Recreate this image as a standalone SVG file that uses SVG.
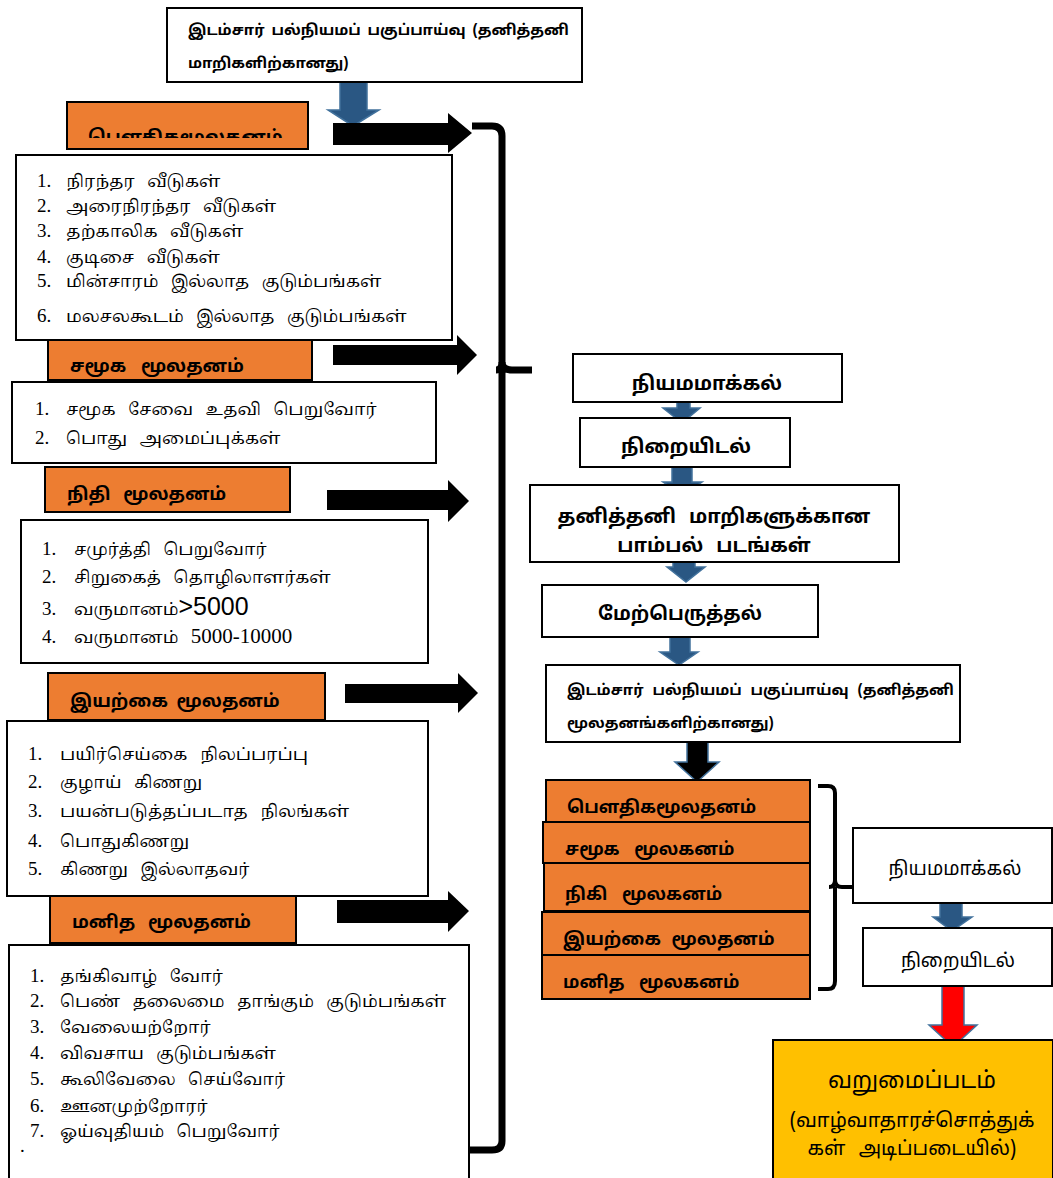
<svg xmlns="http://www.w3.org/2000/svg" width="1053" height="1178" viewBox="0 0 1053 1178">
<style>
.wb{fill:#fff;stroke:#000;stroke-width:2}
.ob{fill:#ED7D31;stroke:#000;stroke-width:2}
.hd{font-family:"Noto Sans Tamil","Latha","Lohit Tamil","Noto Sans",sans-serif;font-weight:bold;fill:#000}
.li{font-family:"Noto Serif Tamil","Latha","Noto Sans Tamil","Liberation Serif",serif;font-size:17px;word-spacing:8px;fill:#000}
.nm{font-family:"Liberation Serif",serif;font-size:19px;fill:#000}
.rg{font-family:"Noto Sans Tamil","Latha","Lohit Tamil",sans-serif;fill:#000}
.blk{fill:#000}
.blu{fill:#2A5783;stroke:#41719C;stroke-width:1.5}
.br{fill:none;stroke:#000;stroke-linejoin:round}
</style>
<defs>
<clipPath id="clip1"><rect x="60" y="95" width="260" height="43"/></clipPath>
</defs>
<rect width="1053" height="1178" fill="#fff"/>

<g id="connectors">
<polygon class="blu" points="340,82 367,82 367,110 379,110 353,126 328,110 340,110"/>
<polygon class="blk" points="333,123 448,123 448,113 472,133 448,153 448,145 333,145"/>
<polygon class="blk" points="333,345 457,345 457,335 477,355 457,375 457,365 333,365"/>
<polygon class="blk" points="327,490 448,490 448,480 469,501 448,522 448,510 327,510"/>
<polygon class="blk" points="345,684 458,684 458,673 478,693 458,713 458,703 345,703"/>
<polygon class="blk" points="337,900 448,900 448,891 469,911 448,932 448,923 337,923"/>
<path class="br" stroke-width="7" d="M472,126 L492,126 Q502,126 502,136 L502,362 Q502,370 512,370 L532,370 M502,370 L502,1141 Q502,1150 492,1150 L470,1150"/>
<path class="br" stroke-width="7" d="M502,362 Q502,370 496,370"/>
<polygon class="blu" points="677,398 690,398 690,408 700,408 682,423 663,408 677,408"/>
<polygon class="blu" points="672,466 692,466 692,482 702,482 683,495 663,482 672,482"/>
<polygon class="blu" points="673,561 695,561 695,567 705,567 686,582 667,567 673,567"/>
<polygon class="blu" points="670,637 690,637 690,652 698,652 679,665 660,652 670,652"/>
<polygon fill="#000" stroke="#41719C" stroke-width="1.5" points="687,742 708,742 708,762 719,762 697,782 675,762 687,762"/>
<path class="br" stroke-width="4" d="M818,786 L828,786 Q835,786 835,793 L835,880 Q835,887 842,887 L853,887 M835,887 L835,981 Q835,989 828,989 L818,989"/>
<path class="br" stroke-width="4" d="M835,880 Q835,887 829,887"/>
<polygon class="blu" points="940,903 962,903 962,917 972,917 952,931 933,917 940,917"/>
<polygon fill="#FF0000" stroke="#41719C" stroke-width="1.5" points="942,978 964,978 964,1025 977,1025 953,1047 929,1025 942,1025"/>
</g>

<g id="top-box">
<rect class="wb" x="167" y="8" width="415" height="74"/>
<text class="hd" font-size="15" x="188" y="35" word-spacing="3">இடம்சார் பல்நியமப் பகுப்பாய்வு (தனித்தனி</text>
<text class="hd" font-size="15" x="188" y="68">மாறிகளிற்கானது)</text>
</g>

<g id="physical-head">
<rect class="ob" x="67" y="102" width="241" height="47"/>
<text class="hd" font-size="18" x="88" y="143" clip-path="url(#clip1)">பௌதிகமூலதனம்</text>
</g>
<g id="physical-list">
<rect class="wb" x="16" y="155" width="436" height="185"/>
<text class="nm" x="37" y="187">1.</text><text class="li" x="66" y="187">நிரந்தர வீடுகள்</text>
<text class="nm" x="37" y="212">2.</text><text class="li" x="66" y="212">அரைநிரந்தர வீடுகள்</text>
<text class="nm" x="37" y="237">3.</text><text class="li" x="66" y="237">தற்காலிக வீடுகள்</text>
<text class="nm" x="37" y="263">4.</text><text class="li" x="66" y="263">குடிசை வீடுகள்</text>
<text class="nm" x="37" y="287">5.</text><text class="li" x="66" y="287">மின்சாரம் இல்லாத குடும்பங்கள்</text>
<text class="nm" x="37" y="322">6.</text><text class="li" x="66" y="322">மலசலகூடம் இல்லாத குடும்பங்கள்</text>
</g>

<g id="social-head">
<rect class="ob" x="48" y="340" width="264" height="40"/>
<text class="hd" font-size="18" x="70" y="372" word-spacing="10">சமூக மூலதனம்</text>
</g>
<g id="social-list">
<rect class="wb" x="12" y="382" width="424" height="81"/>
<text class="nm" x="35" y="415">1.</text><text class="li" x="66" y="415" font-size="18" word-spacing="17">சமூக சேவை உதவி பெறுவோர்</text>
<text class="nm" x="35" y="444">2.</text><text class="li" x="66" y="444" font-size="18" word-spacing="17">பொது அமைப்புக்கள்</text>
</g>

<g id="finance-head">
<rect class="ob" x="45" y="467" width="245" height="45"/>
<text class="hd" font-size="18" x="67" y="500" word-spacing="8">நிதி மூலதனம்</text>
</g>
<g id="finance-list">
<rect class="wb" x="21" y="520" width="407" height="143"/>
<text class="nm" x="42" y="555">1.</text><text class="li" x="74" y="555" font-size="19" word-spacing="14">சமுர்த்தி பெறுவோர்</text>
<text class="nm" x="42" y="583">2.</text><text class="li" x="74" y="583" font-size="19" word-spacing="14">சிறுகைத் தொழிலாளர்கள்</text>
<text class="nm" x="42" y="615">3.</text><text class="li" x="74" y="615" font-size="19">வருமானம்<tspan font-family="Liberation Sans,sans-serif" font-size="25">&gt;5000</tspan></text>
<text class="nm" x="42" y="643">4.</text><text class="li" x="74" y="643" font-size="19" word-spacing="14">வருமானம் <tspan font-family="Liberation Serif,serif" font-size="21">5000-10000</tspan></text>
</g>

<g id="natural-head">
<rect class="ob" x="48" y="673" width="277" height="47"/>
<text class="hd" font-size="18" x="70" y="707" word-spacing="4">இயற்கை மூலதனம்</text>
</g>
<g id="natural-list">
<rect class="wb" x="7" y="721" width="421" height="175"/>
<text class="nm" x="28" y="760" font-size="21">1.</text><text class="li" x="60" y="760" font-size="20" word-spacing="12">பயிர்செய்கை நிலப்பரப்பு</text>
<text class="nm" x="28" y="788" font-size="21">2.</text><text class="li" x="60" y="788" font-size="20" word-spacing="12">குழாய் கிணறு</text>
<text class="nm" x="28" y="817" font-size="21">3.</text><text class="li" x="60" y="817" font-size="20" word-spacing="12">பயன்படுத்தப்படாத நிலங்கள்</text>
<text class="nm" x="28" y="847" font-size="21">4.</text><text class="li" x="60" y="847" font-size="20" word-spacing="12">பொதுகிணறு</text>
<text class="nm" x="28" y="875" font-size="21">5.</text><text class="li" x="60" y="875" font-size="20" word-spacing="12">கிணறு இல்லாதவர்</text>
</g>

<g id="human-head">
<rect class="ob" x="50" y="896" width="246" height="47"/>
<text class="hd" font-size="18" x="72" y="928" word-spacing="8">மனித மூலதனம்</text>
</g>
<g id="human-list">
<rect class="wb" x="9" y="945" width="460" height="240"/>
<text class="nm" x="30" y="982" font-size="18">1.</text><text class="li" x="60" y="982" font-size="16.5" word-spacing="7">தங்கிவாழ் வோர்</text>
<text class="nm" x="30" y="1007" font-size="18">2.</text><text class="li" x="60" y="1007" font-size="16.5" word-spacing="7">பெண் தலைமை தாங்கும் குடும்பங்கள்</text>
<text class="nm" x="30" y="1033" font-size="18">3.</text><text class="li" x="60" y="1033" font-size="16.5" word-spacing="7">வேலையற்றோர்</text>
<text class="nm" x="30" y="1059" font-size="18">4.</text><text class="li" x="60" y="1059" font-size="16.5" word-spacing="7">விவசாய குடும்பங்கள்</text>
<text class="nm" x="30" y="1085" font-size="18">5.</text><text class="li" x="60" y="1085" font-size="16.5" word-spacing="7">கூலிவேலை செய்வோர்</text>
<text class="nm" x="30" y="1112" font-size="18">6.</text><text class="li" x="60" y="1112" font-size="16.5" word-spacing="7">ஊனமுற்றோரர்</text>
<text class="nm" x="30" y="1137" font-size="18">7.</text><text class="li" x="60" y="1137" font-size="16.5" word-spacing="7">ஓய்வுதியம் பெறுவோர்</text>
<text class="nm" x="20" y="1152">.</text>
</g>

<g id="normalise">
<rect class="wb" x="573" y="354" width="269" height="48"/>
<text class="hd" font-size="19.5" x="707" y="390" text-anchor="middle">நியமமாக்கல்</text>
</g>
<g id="weighting">
<rect class="wb" x="580" y="418" width="210" height="49"/>
<text class="hd" font-size="19.5" x="686" y="453" text-anchor="middle">நிறையிடல்</text>
</g>
<g id="spider">
<rect class="wb" x="530" y="485" width="369" height="77"/>
<text class="hd" font-size="19.5" x="714" y="523" text-anchor="middle" word-spacing="8">தனித்தனி மாறிகளுக்கான</text>
<text class="hd" font-size="19.5" x="714" y="552" text-anchor="middle" word-spacing="8">பாம்பல் படங்கள்</text>
</g>
<g id="overlay">
<rect class="wb" x="542" y="585" width="276" height="52"/>
<text class="hd" font-size="19" x="680" y="620" text-anchor="middle">மேற்பெருத்தல்</text>
</g>
<g id="capital-analysis">
<rect class="wb" x="546" y="665" width="414" height="77"/>
<text class="hd" font-size="15" x="567" y="695" word-spacing="5">இடம்சார் பல்நியமப் பகுப்பாய்வு (தனித்தனி</text>
<text class="hd" font-size="15" x="567" y="728">மூலதனங்களிற்கானது)</text>
</g>

<g id="stack-physical">
<rect class="ob" x="546" y="780" width="264" height="42"/>
<text class="hd" font-size="17.5" x="567" y="813">பௌதிகமூலதனம்</text>
</g>
<g id="stack-social">
<rect class="ob" x="543" y="822" width="267" height="41"/>
<text class="hd" font-size="17.5" x="565" y="855" word-spacing="10">சமூக மூலகனம்</text>
</g>
<g id="stack-finance">
<rect class="ob" x="544" y="863" width="266" height="48"/>
<text class="hd" font-size="17.5" x="565" y="900" word-spacing="10">நிகி மூலகனம்</text>
</g>
<g id="stack-natural">
<rect class="ob" x="542" y="912" width="268" height="43"/>
<text class="hd" font-size="18" x="563" y="945" word-spacing="6">இயற்கை மூலதனம்</text>
</g>
<g id="stack-human">
<rect class="ob" x="542" y="955" width="268" height="44"/>
<text class="hd" font-size="17.5" x="563" y="988" word-spacing="10">மனித மூலகனம்</text>
</g>

<g id="normalise-2">
<rect class="wb" x="853" y="828" width="199" height="75"/>
<text class="rg" font-size="19" x="955" y="875" text-anchor="middle">நியமமாக்கல்</text>
</g>
<g id="weighting-2">
<rect class="wb" x="863" y="928" width="189" height="58"/>
<text class="rg" font-size="19" x="958" y="967" text-anchor="middle">நிறையிடல்</text>
</g>
<g id="poverty-map">
<rect x="773" y="1040" width="280" height="140" fill="#FFC000" stroke="#000" stroke-width="2"/>
<text class="rg" font-size="23" x="912" y="1088" text-anchor="middle">வறுமைப்படம்</text>
<text class="rg" font-size="20" x="912" y="1127" text-anchor="middle">(வாழ்வாதாரச்சொத்துக்</text>
<text class="rg" font-size="20" x="912" y="1155" text-anchor="middle" word-spacing="8">கள் அடிப்படையில்)</text>
</g>
</svg>
